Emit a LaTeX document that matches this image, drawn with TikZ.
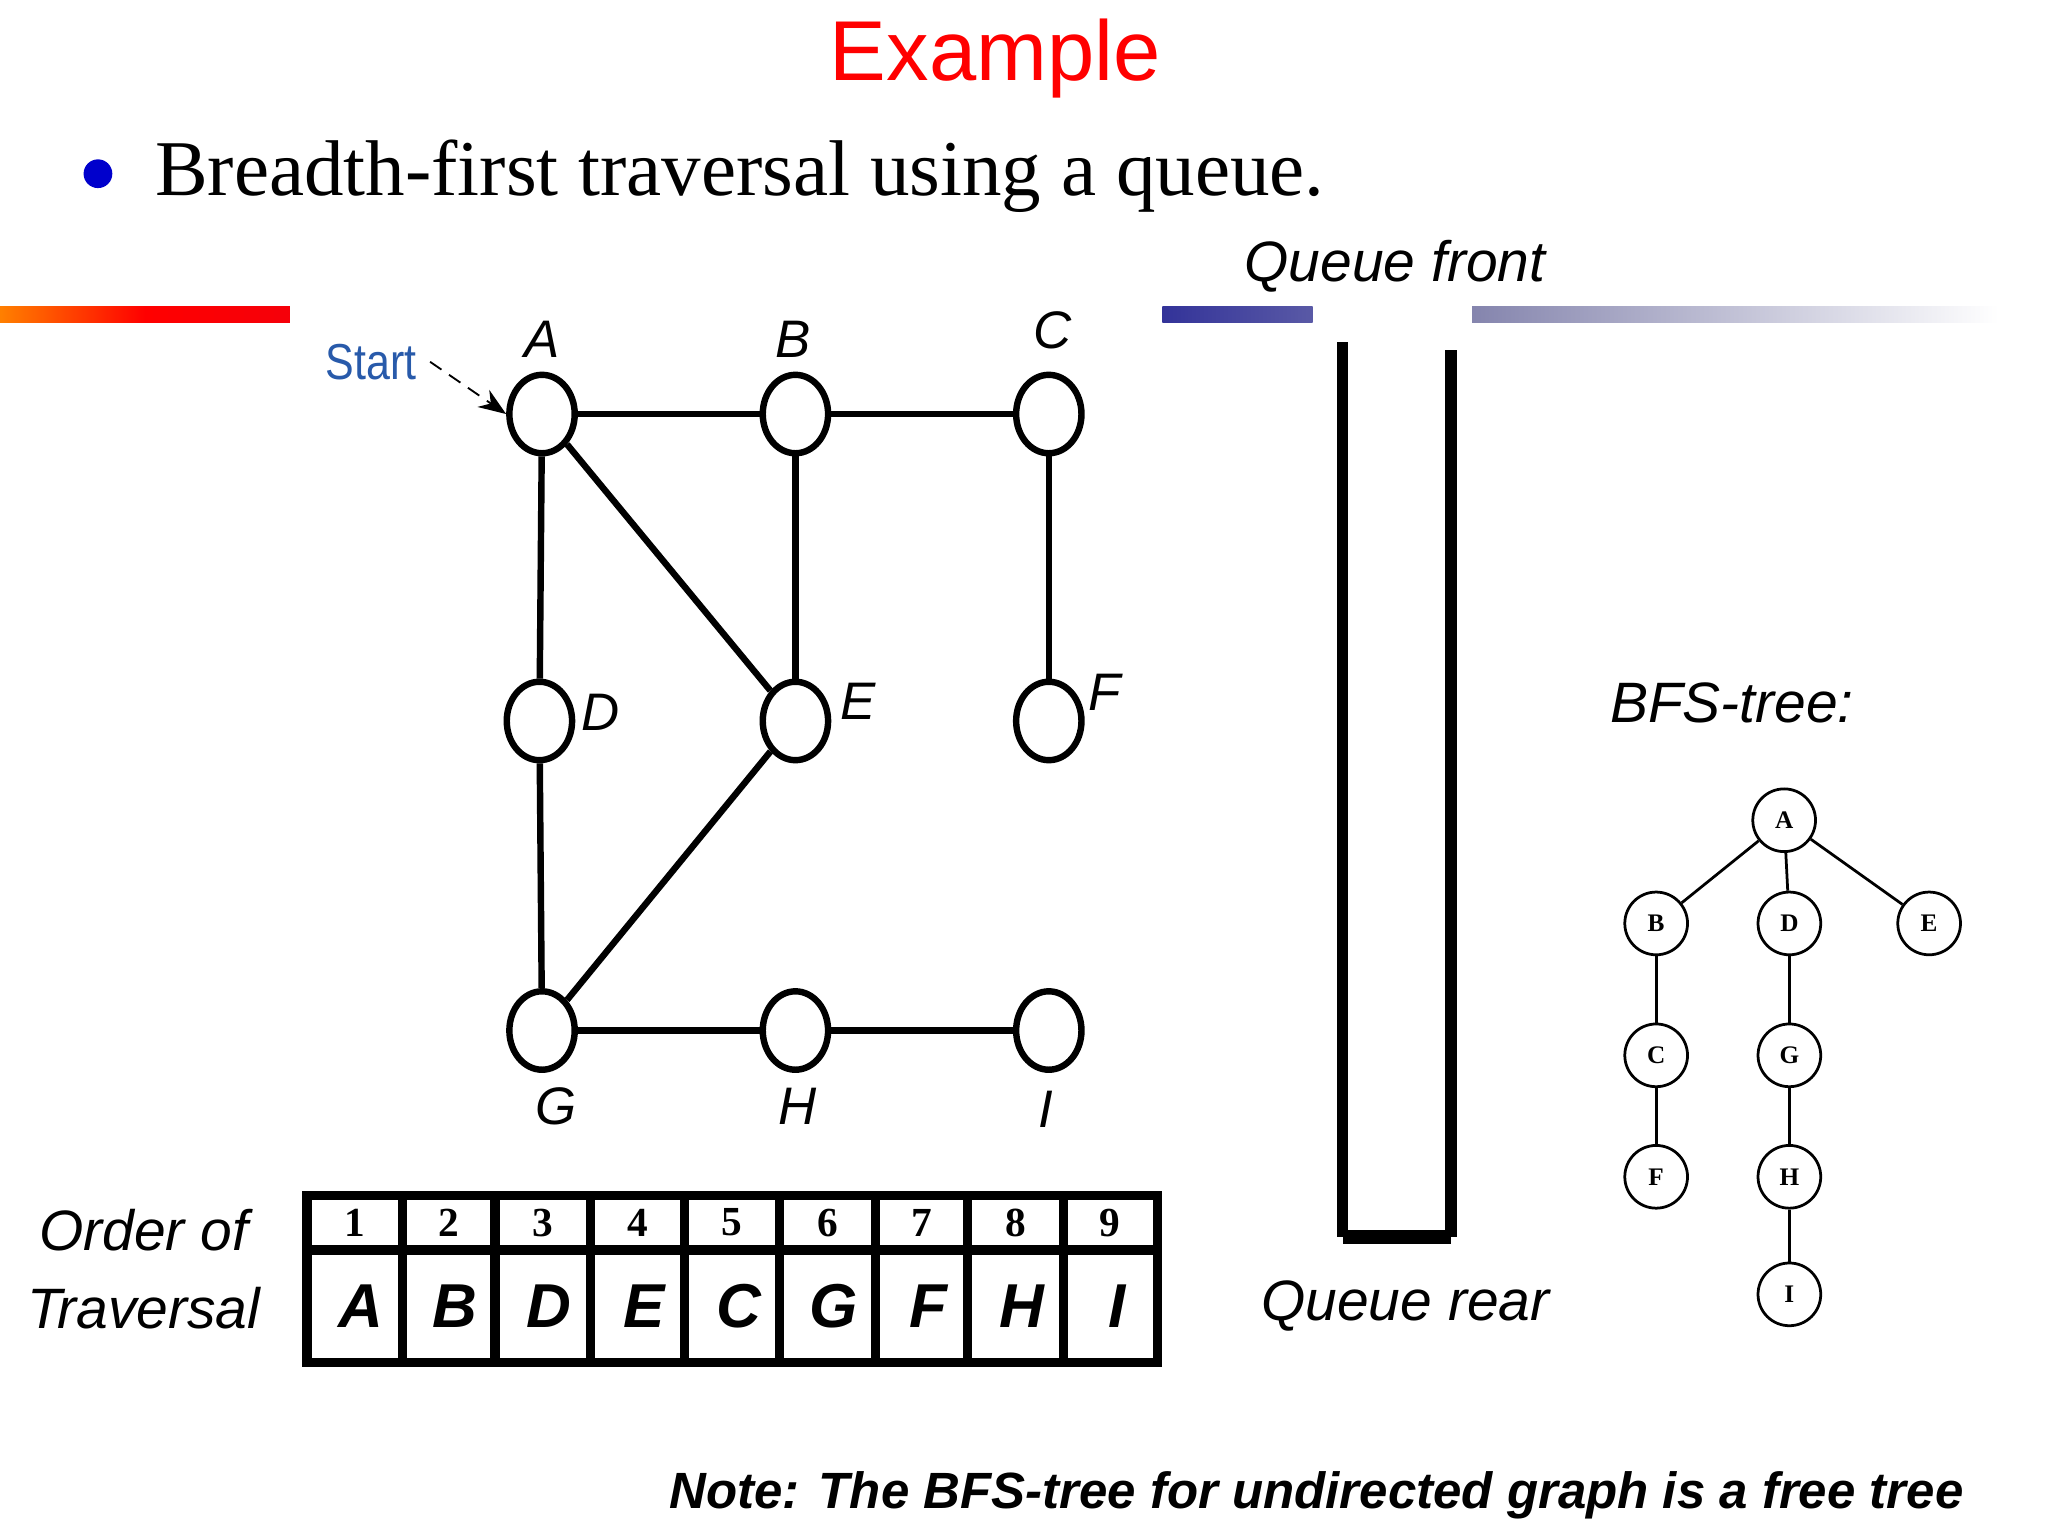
\documentclass[tikz,border=0pt]{standalone}
\usepackage{fontspec}
\setmainfont{Liberation Serif}
\setsansfont{Liberation Sans}
\usetikzlibrary{arrows.meta,shapes.geometric}
\definecolor{startblue}{RGB}{40,90,170}
\tikzset{
  gn/.style={draw,ellipse,line width=1.4pt,minimum width=0.5cm,minimum height=0.6cm,inner sep=0pt},
  gl/.style={font=\sffamily\itshape\fontsize{11.5}{14}\selectfont},
  tn/.style={draw,circle,line width=0.6pt,minimum size=0.48cm,inner sep=0pt,font=\rmfamily\bfseries\fontsize{5.5}{6}\selectfont},
  ge/.style={line width=1.4pt},
  te/.style={line width=0.6pt},
  big/.style={font=\sffamily\itshape\fontsize{12.4}{15}\selectfont},
  cell/.style={font=\sffamily\bfseries\itshape\fontsize{13.5}{15}\selectfont},
  num/.style={font=\rmfamily\bfseries\fontsize{9}{10}\selectfont}
}
\begin{document}
\begin{tikzpicture}[x=0.01cm,y=-0.01cm]
\useasboundingbox[fill=white] (0,0) rectangle (1568,1176);
% title
\node[text=red,font=\sffamily\fontsize{18.5}{20}\selectfont] (title) at (762,45) {Example};
\fill[blue!80!black] (75,133) circle (11);
\node[anchor=base west,inner sep=0pt,font=\rmfamily\fontsize{17.2}{20}\selectfont] (bul) at (118,150) {Breadth-first traversal using a queue.};
% bars
\shade[left color=orange,right color=red!85!purple,middle color=red] (0,235) rectangle (222,247);
\shade[left color=blue!50!black!80,right color=blue!30!gray] (890,235) rectangle (1005,247);
\shade[left color=blue!20!gray!80,right color=white] (1127,235) rectangle (1530,247);
% graph
\node[gn] (A) at (415,317) {};
\node[gn] (B) at (609,317) {};
\node[gn] (C) at (803,317) {};
\node[gn] (D) at (413,552) {};
\node[gn] (E) at (609,552) {};
\node[gn] (F) at (803,552) {};
\node[gn] (G) at (415,789) {};
\node[gn] (H) at (609,789) {};
\node[gn] (I) at (803,789) {};
\draw[ge] (A)--(B); \draw[ge] (B)--(C); \draw[ge] (A)--(D); \draw[ge] (A)--(E);
\draw[ge] (B)--(E); \draw[ge] (C)--(F); \draw[ge] (D)--(G); \draw[ge] (E)--(G);
\draw[ge] (G)--(H); \draw[ge] (H)--(I);
\node[gl] (lA) at (415,260) {A};
\node[gl] (lB) at (607,260) {B};
\node[gl] (lC) at (806,253) {C};
\node[gl] (lD) at (460,545) {D};
\node[gl] (lE) at (657,537) {E};
\node[gl] (lF) at (846,530) {F};
\node[gl] (lG) at (426,847) {G};
\node[gl] (lH) at (611,847) {H};
\node[gl] (lI) at (801,849) {I};
\node[text=startblue,font=\sffamily\fontsize{11}{13}\selectfont,xscale=0.85] (start) at (284,277) {Start};
\draw[densely dashed,-{Stealth[length=6pt]}] (start.east) -- (A.west);
% queue
\coordinate (q1) at (1028,262); \coordinate (q2) at (1028,947);
\coordinate (q3) at (1111,947); \coordinate (q4) at (1111,268);
\draw[line width=2.5pt] (q1)--(q2); \draw[line width=2.5pt] (q3)--(q4);
\draw[line width=3pt] (q2)--(q3);
\node[big] (qf) at (1068,204) {Queue front};
\node[big] (qr) at (1076,1000) {Queue rear};
% table
\draw[line width=2pt] (235,915) rectangle (886,1043);
\draw[line width=2pt] (235,957) -- (886,957);
\foreach \x in {308,379,452,524,597,670,741,814} \draw[line width=2pt] (\x,915)--(\x,1043);
\foreach \a/\b/\n/\l in {235/308/1/A,308/379/2/B,379/452/3/D,452/524/4/E,524/597/5/C,597/670/6/G,670/741/7/F,741/814/8/H,814/886/9/I}{
  \node[num] at ({(\a+\b)/2},936) {\n};
  \node[cell] at ({(\a+\b)/2+5},1000) {\l};
}
\node[big,align=center] (ot) at (110,972) {Order of\\[2pt]Traversal};
% BFS tree
\node[big] (bt) at (1326,538) {BFS-tree:};
\node[tn] (tA) at (1366,628) {A};
\node[tn] (tB) at (1268,707) {B};
\node[tn] (tD) at (1370,707) {D};
\node[tn] (tE) at (1477,707) {E};
\node[tn] (tC) at (1268,808) {C};
\node[tn] (tG) at (1370,808) {G};
\node[tn] (tF) at (1268,901) {F};
\node[tn] (tH) at (1370,901) {H};
\node[tn] (tI) at (1370,991) {I};
\draw[te] (tA)--(tB); \draw[te] (tA)--(tD); \draw[te] (tA)--(tE);
\draw[te] (tB)--(tC); \draw[te] (tC)--(tF); \draw[te] (tD)--(tG);
\draw[te] (tG)--(tH); \draw[te] (tH)--(tI);
\node[font=\sffamily\bfseries\itshape\fontsize{11.1}{13}\selectfont] (note) at (1008,1145) {Note: The BFS-tree for undirected graph is a free tree};
\end{tikzpicture}
\end{document}
